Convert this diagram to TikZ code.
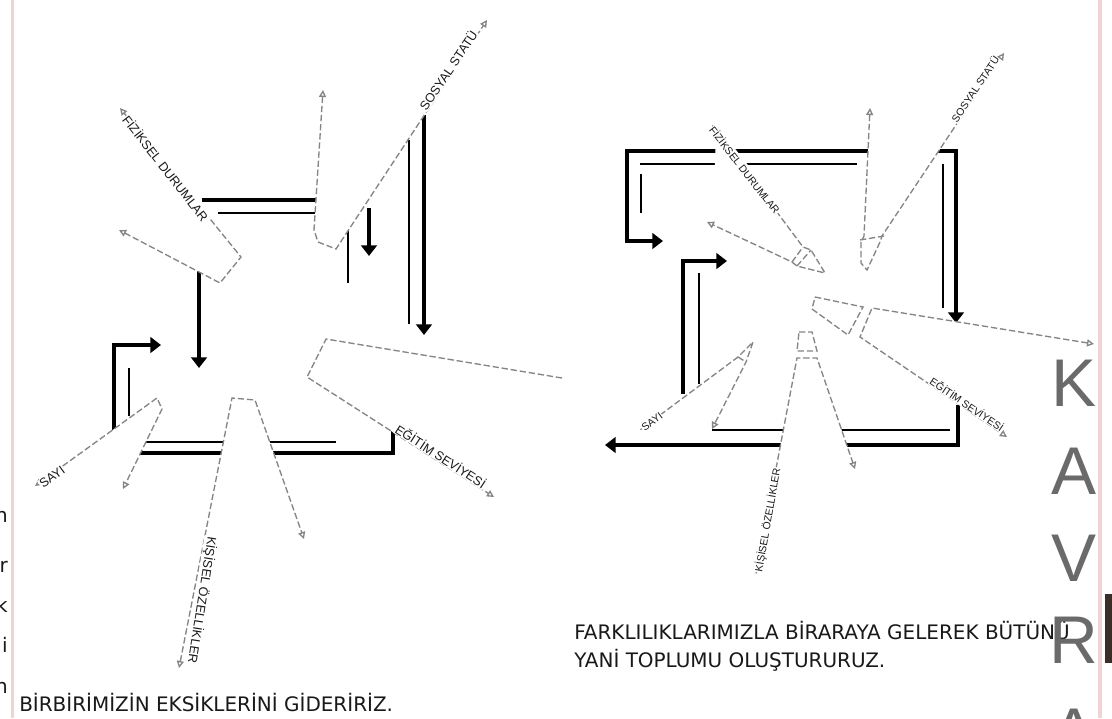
\documentclass[tikz,border=0pt]{standalone}
\usepackage{fontspec}
\setmainfont{DejaVu Sans}
\newfontfamily\labelfont{Liberation Sans}
\usepackage{xcolor}
\usepackage{tikz}
\usetikzlibrary{arrows.meta}

\definecolor{dashgray}{HTML}{858585}
\definecolor{kavgray}{HTML}{6A6A6A}
\definecolor{marginpink}{HTML}{F1D3D6}
\definecolor{photobrown}{HTML}{3B2E26}

\begin{document}
\begin{tikzpicture}[
    x=0.025cm, y=-0.025cm,
    heavy/.style={line width=2.7pt, >={Triangle[length=7.5pt,width=11pt]}},
    slim/.style={line width=1.2pt},
    piece/.style={draw=dashgray, fill=white, line width=0.95pt, dash pattern=on 4.5pt off 2pt,
        >={Triangle[open,length=5pt,width=5pt]}},
    lbl/.style={font=\labelfont\fontsize{9}{9}\selectfont, text=black!90, fill=white, inner sep=0.5pt},
    lbls/.style={lbl, font=\labelfont\fontsize{7.4}{8}\selectfont},
    caption/.style={font=\fontsize{14.2}{16}\selectfont, text=black!90, anchor=base west, inner sep=0pt},
    kav/.style={font=\labelfont\fontsize{48}{48}\selectfont, text=kavgray, inner sep=0pt}
]
% page and margins
\fill[white] (0,0) rectangle (1112,718);
\useasboundingbox (0,0) rectangle (1112,718);
\fill[marginpink] (11,0) rectangle (14,718);
\fill[marginpink] (1098,0) rectangle (1102,718);
\fill[photobrown] (1105,594) rectangle (1112,663);

% cut-off letters of the neighbouring column
\foreach \ch/\yy [count=\i] in {n/522, r/572, k/612, i/652, n/693} {
    \node[caption, anchor=base east] (cut\i) at (8,\yy) {\ch};
}

%% ---------- left diagram ----------
% black lines
\draw[heavy] (202,200) -- (318,200);
\draw[slim] (218,213) -- (318,213);
\draw[heavy,->] (199,268) -- (199,368);
\draw[heavy,->] (369,208) -- (369,256);
\draw[slim] (348,222) -- (348,283);
\draw[heavy,->] (424,115) -- (424,335);
\draw[slim] (409,140) -- (409,324);
\draw[heavy,->] (114,432) -- (114,345) -- (161,345);
\draw[slim] (129,368) -- (129,416);
\draw[slim] (140,442) -- (336,442);
\draw[heavy] (138,453) -- (393,453) -- (393,428);

% dashed pieces
\draw[piece,<->] (323,90) -- (314,230) -- (318,242) -- (336,249) -- (487,20);
\draw[piece,<->] (120,108) -- (241,257) -- (220,283) -- (119,230);
\draw[piece,->] (562,378) -- (326,339) -- (307,377) -- (494,497);
\draw[piece,<->] (179,668) -- (232,398) -- (255,400) -- (304,539);
\draw[piece,<->] (35,486) -- (157,398) -- (162,409) -- (123,489);

% labels
\node[lbl, rotate=56] (sosyalL) at (448,70) {SOSYAL STATÜ};
\node[lbl, rotate=-52] (fizikL) at (166,168) {FİZİKSEL DURUMLAR};
\node[lbl, rotate=-33] (egitimL) at (441,456) {EĞİTİM SEVİYESİ};
\node[lbl, rotate=-99] (kisiselL) at (202,600) {KİŞİSEL ÖZELLİKLER};
\node[lbl, rotate=36] (sayiL) at (52,477) {SAYI};

%% ---------- right diagram ----------
% black lines
\draw[heavy,<->] (663,241) -- (627,241) -- (627,151) -- (956,151) -- (956,323);
\draw[slim] (640,164) -- (857,164);
\draw[slim] (641,174) -- (641,213);
\draw[slim] (943,164) -- (943,308);
\draw[heavy,->] (683,394) -- (683,261) -- (727,261);
\draw[slim] (699,273) -- (699,384);
\draw[heavy,<-] (605,445) -- (958,445) -- (958,405);
\draw[slim] (712,430) -- (950,430);

% dashed pieces with their tips
\draw[piece,<->] (870,108) -- (864,236) -- (861,242) -- (861,263) -- (867,270) -- (880,242) -- (882,236) -- (1004,53);
\draw[piece] (860,240) -- (884,236);
\draw[piece,<->] (712,125) -- (803,247) -- (811,250) -- (825,273) -- (797,266) -- (792,262) -- (707,222);
\draw[piece] (792,262) -- (803,247);
\draw[piece] (797,266) -- (811,250);
\draw[piece,<->] (1094,344) -- (872,308) -- (860,337) -- (1007,437);
\draw[piece] (815,297) -- (863,307) -- (848,335) -- (812,309) -- cycle;
\draw[piece,<->] (756,574) -- (797,358) -- (817,358) -- (855,469);
\draw[piece] (799,332) -- (812,332) -- (817,351) -- (797,351) -- cycle;
\draw[piece,<->] (640,430) -- (738,357) -- (753,342) -- (746,362) -- (712,429);
\draw[piece] (738,357) -- (746,362);

% labels
\node[lbls, rotate=56] (sosyalR) at (975,89) {SOSYAL STATÜ};
\node[lbls, rotate=-52] (fizikR) at (745,170) {FİZİKSEL DURUMLAR};
\node[lbls, rotate=-34] (egitimR) at (967,404) {EĞİTİM SEVİYESİ};
\node[lbls, rotate=80] (kisiselR) at (768,520) {KİŞİSEL ÖZELLİKLER};
\node[lbls, rotate=36] (sayiR) at (652,422) {SAYI};

%% ---------- texts ----------
\node[caption] (leftcap) at (19,711) {BİRBİRİMİZİN EKSİKLERİNİ GİDERİRİZ.};
\node[caption] (rightcap1) at (574,639) {FARKLILIKLARIMIZLA BİRARAYA GELEREK BÜTÜNÜ};
\node[caption] (rightcap2) at (574,667) {YANİ TOPLUMU OLUŞTURURUZ.};

% side title
\foreach \ch/\yy [count=\i] in {K/383, A/471, V/558, R/640, A/732} {
    \node[kav] (kav\i) at (1074,\yy) {\ch};
}
\end{tikzpicture}
\end{document}
